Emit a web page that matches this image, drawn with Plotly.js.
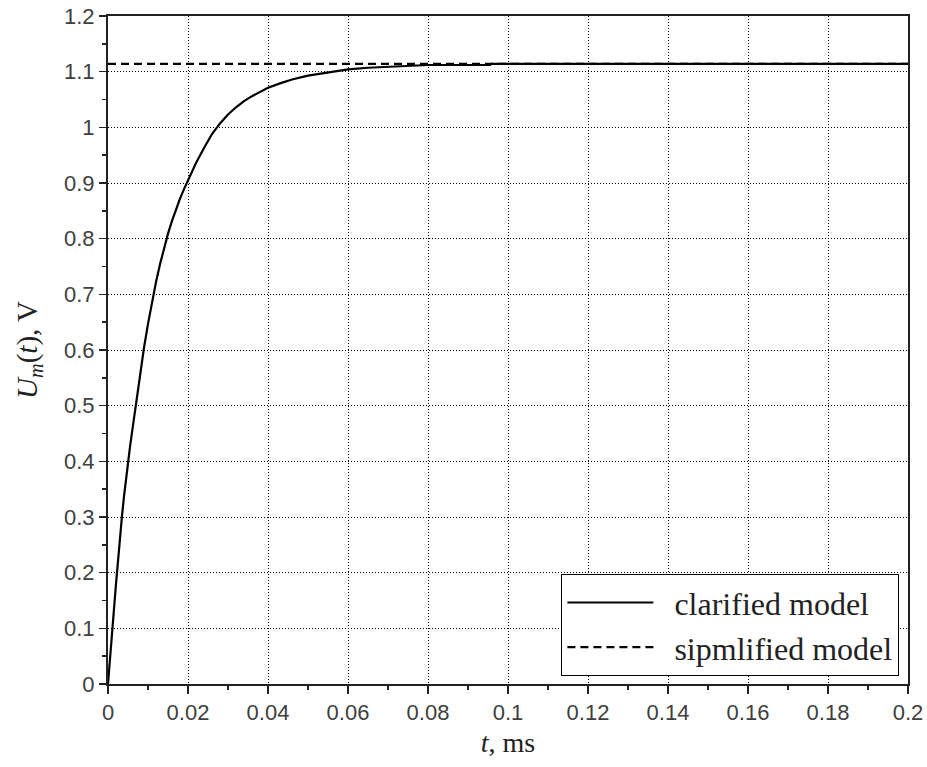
<!DOCTYPE html>
<html>
<head>
<meta charset="utf-8">
<script src="https://cdn.plot.ly/plotly-3.0.1.min.js"></script>
<style>html,body{margin:0;padding:0;background:#fff;}#chart{width:927px;height:767px;}</style>
</head>
<body>
<div id="chart"></div>
<script>
// clarified model
var tClarified = [0, 0.0003, 0.0006, 0.001, 0.0015, 0.002, 0.0025, 0.003, 0.0035, 0.004, 0.0045, 0.005, 0.0055, 0.006, 0.0065, 0.007, 0.008, 0.009, 0.010, 0.011, 0.012, 0.013, 0.014, 0.015, 0.016, 0.017, 0.018, 0.019, 0.020, 0.022, 0.024, 0.026, 0.028, 0.030, 0.032, 0.034, 0.036, 0.038, 0.040, 0.043, 0.046, 0.050, 0.055, 0.060, 0.065, 0.070, 0.075, 0.080, 0.0955, 0.0958, 0.12, 0.15, 0.2];
var uClarified = [0, 0.03, 0.055, 0.085, 0.135, 0.18, 0.225, 0.265, 0.302, 0.337, 0.37, 0.398, 0.426, 0.452, 0.477, 0.51, 0.558, 0.604, 0.647, 0.687, 0.722, 0.754, 0.783, 0.809, 0.832, 0.853, 0.872, 0.889, 0.905, 0.936, 0.963, 0.988, 1.007, 1.023, 1.036, 1.047, 1.056, 1.064, 1.071, 1.079, 1.086, 1.093, 1.099, 1.104, 1.107, 1.109, 1.111, 1.112, 1.112, 1.114, 1.114, 1.114, 1.114];
// simplified model
var tSimplified = [0, 0.2];
var uSimplified = [1.114, 1.114];

var xTickVals = [0, 0.02, 0.04, 0.06, 0.08, 0.1, 0.12, 0.14, 0.16, 0.18, 0.2];
var xTickText = ['0', '0.02', '0.04', '0.06', '0.08', '0.1', '0.12', '0.14', '0.16', '0.18', '0.2'];
var yTickVals = [0, 0.1, 0.2, 0.3, 0.4, 0.5, 0.6, 0.7, 0.8, 0.9, 1, 1.1, 1.2];
var yTickText = ['0', '0.1', '0.2', '0.3', '0.4', '0.5', '0.6', '0.7', '0.8', '0.9', '1', '1.1', '1.2'];

var seriesNames = ['\u00a0\u00a0clarified model', '\u00a0\u00a0sipmlified model'];

var traces = [
  {x: tClarified, y: uClarified, type: 'scatter', mode: 'lines', name: seriesNames[0],
   line: {color: '#000', width: 2.2}},
  {x: tSimplified, y: uSimplified, type: 'scatter', mode: 'lines', name: seriesNames[1],
   line: {color: '#000', width: 2.2, dash: '8px,5px'}}
];

var tickFont = {family: 'Liberation Sans, Arial, sans-serif', size: 22, color: '#404040'};
var serif = 'Liberation Serif, Times New Roman, serif';

var layout = {
  width: 927, height: 767,
  margin: {l: 108, r: 19, t: 16, b: 83},
  paper_bgcolor: '#fff', plot_bgcolor: '#fff',
  showlegend: true,
  legend: {
    x: 0.989, y: 0.012, xanchor: 'right', yanchor: 'bottom',
    bgcolor: '#fff', bordercolor: '#000', borderwidth: 1.2,
    font: {family: serif, size: 32, color: '#222'},
    itemwidth: 86,
    tracegroupgap: 0
  },
  xaxis: {
    range: [0, 0.2], autorange: false,
    tickmode: 'array', tickvals: xTickVals, ticktext: xTickText,
    tickfont: tickFont,
    ticks: 'outside', ticklen: 8, tickwidth: 1.5, tickcolor: '#222',
    minor: {dtick: 0.01, ticks: 'outside', ticklen: 4, tickwidth: 1.5, tickcolor: '#222', showgrid: false},
    showgrid: true, gridcolor: '#000', gridwidth: 1, griddash: '1px,2px',
    showline: true, linecolor: '#222', linewidth: 2, mirror: true,
    zeroline: false,
    title: {text: '<i>t</i>, ms', font: {family: serif, size: 28, color: '#222'}, standoff: 8},
    automargin: false
  },
  yaxis: {
    range: [0, 1.2], autorange: false,
    tickmode: 'array', tickvals: yTickVals, ticktext: yTickText,
    tickfont: tickFont,
    ticks: 'outside', ticklen: 7, tickwidth: 1.5, tickcolor: '#222',
    minor: {dtick: 0.05, ticks: 'outside', ticklen: 4, tickwidth: 1.5, tickcolor: '#222', showgrid: false},
    showgrid: true, gridcolor: '#000', gridwidth: 1, griddash: '1px,2px',
    showline: true, linecolor: '#222', linewidth: 2, mirror: true,
    zeroline: false,
    title: {text: '<i>U</i><sub><i>m</i></sub>(<i>t</i>), V', font: {family: serif, size: 29, color: '#222'}, standoff: 18},
    automargin: false
  }
};

Plotly.newPlot('chart', traces, layout, {displayModeBar: false, staticPlot: true});
</script>
</body>
</html>
